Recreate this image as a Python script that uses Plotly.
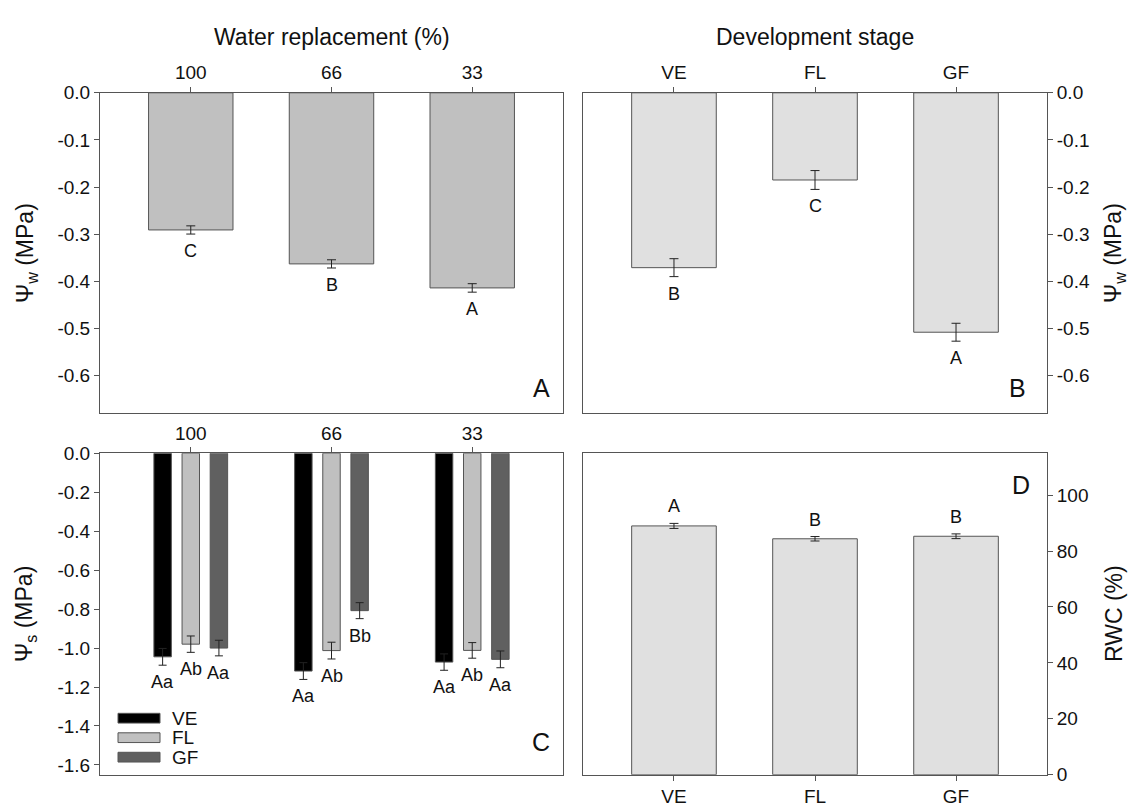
import plotly.graph_objects as go

# ---------------- data ----------------
water_levels = ["100", "66", "33"]
stages = ["VE", "FL", "GF"]

psi_w_water = [-0.291, -0.363, -0.414]
psi_w_water_err = [0.0087, 0.0087, 0.009]
psi_w_water_letters = ["C", "B", "A"]

psi_w_stage = [-0.371, -0.185, -0.508]
psi_w_stage_err = [0.019, 0.020, 0.019]
psi_w_stage_letters = ["B", "C", "A"]

psi_s_VE = [-1.045, -1.118, -1.072]
psi_s_FL = [-0.980, -1.013, -1.012]
psi_s_GF = [-1.000, -0.808, -1.058]
psi_s_VE_err = [0.043, 0.043, 0.042]
psi_s_FL_err = [0.042, 0.043, 0.040]
psi_s_GF_err = [0.040, 0.041, 0.043]
psi_s_VE_letters = ["Aa", "Aa", "Aa"]
psi_s_FL_letters = ["Ab", "Ab", "Ab"]
psi_s_GF_letters = ["Aa", "Bb", "Aa"]

rwc = [89.0, 84.4, 85.3]
rwc_err = [0.9, 0.8, 0.85]
rwc_letters = ["A", "B", "B"]

psi_w_ticks = [0.0, -0.1, -0.2, -0.3, -0.4, -0.5, -0.6]
psi_s_ticks = [0.0, -0.2, -0.4, -0.6, -0.8, -1.0, -1.2, -1.4, -1.6]
rwc_ticks = [0, 20, 40, 60, 80, 100]

# ---------------- style ----------------
W, H = 1132, 812
FONT = "Liberation Sans, Arial, sans-serif"
LINE = "#555555"
COL_A = "#c0c0c0"
COL_B = "#e0e0e0"
COL_VE = "#000000"
COL_FL = "#c0c0c0"
COL_GF = "#606060"
TICK_FS = 19
LET_FS = 18
TITLE_FS = 23


def fx(p):
    return p / W


def fy(p):
    return 1 - p / H


# panel pixel boxes (left, right) / (top, bottom)
LX = (100, 563)
RX = (583, 1047)
TY = (85, 414)
BY = (455, 785)

fig = go.Figure()

err_style = dict(type="data", visible=True, color="#222222", thickness=1)

# Panel A
fig.add_trace(go.Bar(x=water_levels, y=psi_w_water, width=0.6,
                     marker=dict(color=COL_A, line=dict(color=LINE, width=1)),
                     error_y=dict(array=psi_w_water_err, width=4.5, **err_style),
                     xaxis="x", yaxis="y", showlegend=False))
# Panel B
fig.add_trace(go.Bar(x=stages, y=psi_w_stage, width=0.6,
                     marker=dict(color=COL_B, line=dict(color=LINE, width=1)),
                     error_y=dict(array=psi_w_stage_err, width=4.5, **err_style),
                     xaxis="x2", yaxis="y2", showlegend=False))
# Panel C
c_series = [("VE", psi_s_VE, psi_s_VE_err, psi_s_VE_letters, COL_VE),
            ("FL", psi_s_FL, psi_s_FL_err, psi_s_FL_letters, COL_FL),
            ("GF", psi_s_GF, psi_s_GF_err, psi_s_GF_letters, COL_GF)]
BW_C = 0.124
SLOT_C = 0.2
for j, (name, vals, errs, lets, col) in enumerate(c_series):
    center = (j - 1) * SLOT_C
    fig.add_trace(go.Bar(x=water_levels, y=vals, width=BW_C, offset=center - BW_C / 2,
                         name=name,
                         marker=dict(color=col, line=dict(color=LINE, width=1)),
                         error_y=dict(array=errs, width=4, **err_style),
                         xaxis="x3", yaxis="y3", showlegend=False))
# Panel D
fig.add_trace(go.Bar(x=stages, y=rwc, width=0.6,
                     marker=dict(color=COL_B, line=dict(color=LINE, width=1)),
                     error_y=dict(array=rwc_err, width=4.5, **err_style),
                     xaxis="x4", yaxis="y4", showlegend=False))

ann = []
# significance letters
for i, (v, e, t) in enumerate(zip(psi_w_water, psi_w_water_err, psi_w_water_letters)):
    ann.append(dict(x=i, y=v - e, xref="x", yref="y", text=t, showarrow=False,
                    xanchor="center", yanchor="top", yshift=-5, font=dict(size=LET_FS)))
for i, (v, e, t) in enumerate(zip(psi_w_stage, psi_w_stage_err, psi_w_stage_letters)):
    ann.append(dict(x=i, y=v - e, xref="x2", yref="y2", text=t, showarrow=False,
                    xanchor="center", yanchor="top", yshift=-5, font=dict(size=LET_FS)))
for j, (name, vals, errs, lets, col) in enumerate(c_series):
    center = (j - 1) * SLOT_C
    for i, (v, e, t) in enumerate(zip(vals, errs, lets)):
        ann.append(dict(x=i + center, y=v - e, xref="x3", yref="y3", text=t, showarrow=False,
                        xanchor="center", yanchor="top", yshift=-5, font=dict(size=LET_FS)))
for i, (v, e, t) in enumerate(zip(rwc, rwc_err, rwc_letters)):
    ann.append(dict(x=i, y=v + e, xref="x4", yref="y4", text=t, showarrow=False,
                    xanchor="center", yanchor="bottom", yshift=5, font=dict(size=LET_FS)))

# panel letters
for t, px, py in [("A", LX[1] - 22, TY[1] - 26), ("B", RX[1] - 30, TY[1] - 26),
                  ("C", LX[1] - 22, BY[1] - 34), ("D", RX[1] - 26, BY[0] + 33)]:
    ann.append(dict(x=fx(px), y=fy(py), xref="paper", yref="paper", text=t,
                    showarrow=False, xanchor="center", yanchor="middle",
                    font=dict(size=25)))

# headers
ann.append(dict(x=fx((LX[0] + LX[1]) / 2), y=fy(28), xref="paper", yref="paper",
                text="Water replacement (%)", showarrow=False,
                xanchor="center", yanchor="middle", font=dict(size=TITLE_FS)))
ann.append(dict(x=fx((RX[0] + RX[1]) / 2), y=fy(28), xref="paper", yref="paper",
                text="Development stage", showarrow=False,
                xanchor="center", yanchor="middle", font=dict(size=TITLE_FS)))

# y titles
for txt, px, py in [("Ψ<sub>w</sub> (MPa)", 26, (TY[0] + TY[1]) / 2),
                    ("Ψ<sub>s</sub> (MPa)", 26, (BY[0] + BY[1]) / 2),
                    ("Ψ<sub>w</sub> (MPa)", 1114, (TY[0] + TY[1]) / 2),
                    ("RWC (%)", 1114, (BY[0] + BY[1]) / 2)]:
    ann.append(dict(x=fx(px), y=fy(py), xref="paper", yref="paper", text=txt,
                    textangle=-90, showarrow=False, xanchor="center", yanchor="middle",
                    font=dict(size=TITLE_FS)))

# custom legend in panel C
shapes = []
for k, (name, vals, errs, lets, col) in enumerate(c_series):
    cy = 727 + 20 * k
    shapes.append(dict(type="rect", xref="paper", yref="paper",
                       x0=fx(118), x1=fx(160), y0=fy(cy + 5), y1=fy(cy - 5),
                       fillcolor=col, line=dict(color=LINE, width=1)))
    ann.append(dict(x=fx(170), y=fy(cy), xref="paper", yref="paper", text=name,
                    showarrow=False, xanchor="left", yanchor="middle", font=dict(size=TICK_FS)))

axis_common = dict(showline=True, linecolor=LINE, linewidth=1, mirror=True,
                   ticks="outside", ticklen=5, tickcolor=LINE, showgrid=False,
                   zeroline=False, tickfont=dict(size=TICK_FS), fixedrange=True)
xcat = dict(type="category", range=[-0.645, 2.645], **axis_common)


def ylab(vals, fmt):
    return dict(tickmode="array", tickvals=vals, ticktext=[fmt.format(v) for v in vals])


fig.update_layout(
    width=W, height=H,
    margin=dict(l=0, r=0, t=0, b=0),
    paper_bgcolor="white", plot_bgcolor="white",
    font=dict(family=FONT, color="#111111"),
    barmode="overlay",
    xaxis=dict(domain=[fx(LX[0]), fx(LX[1])], side="top", anchor="y", **xcat),
    yaxis=dict(domain=[fy(TY[1]), fy(TY[0])], range=[-0.68, 0],
               side="left", anchor="x", **ylab(psi_w_ticks, "{:.1f}"), **axis_common),
    xaxis2=dict(domain=[fx(RX[0]), fx(RX[1])], side="top", anchor="y2", **xcat),
    yaxis2=dict(domain=[fy(TY[1]), fy(TY[0])], range=[-0.68, 0],
                side="right", anchor="x2", **ylab(psi_w_ticks, "{:.1f}"), **axis_common),
    xaxis3=dict(domain=[fx(LX[0]), fx(LX[1])], side="top", anchor="y3", **xcat),
    yaxis3=dict(domain=[fy(BY[1]), fy(BY[0])], range=[-1.65, 0],
                side="left", anchor="x3", **ylab(psi_s_ticks, "{:.1f}"), **axis_common),
    xaxis4=dict(domain=[fx(RX[0]), fx(RX[1])], side="bottom", anchor="y4", **xcat),
    yaxis4=dict(domain=[fy(BY[1]), fy(BY[0])], range=[0, 115],
                side="right", anchor="x4", **ylab(rwc_ticks, "{:d}"), **axis_common),
    annotations=ann,
    shapes=shapes,
)

fig.write_html("out.html")
